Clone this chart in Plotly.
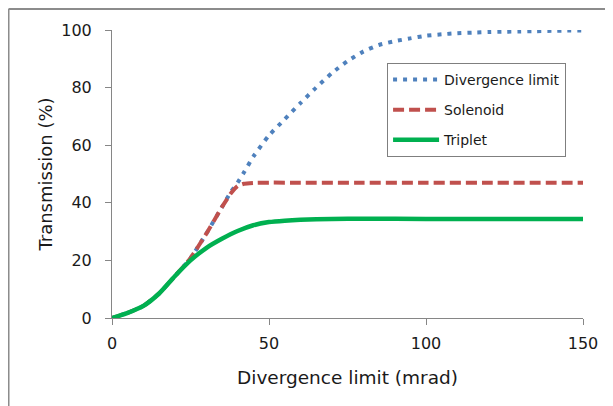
import plotly.graph_objects as go

# Divergence limit (mrad)
x_div = [0, 5, 10, 15, 20, 25, 30, 35, 38, 40, 42, 45, 50, 55, 60, 65, 70, 75, 80,
         85, 90, 95, 100, 105, 110, 115, 120, 125, 130, 135, 140, 145, 150]
divergence = [0, 1.8, 4.2, 8.5, 14.5, 20.8, 29.2, 38.5, 44, 47, 50.5, 56, 63.4, 69, 74.6,
              80, 85, 89.2, 92.5, 94.8, 96.1, 97.1, 98.0, 98.5, 98.9, 99.1, 99.3, 99.4,
              99.5, 99.6, 99.7, 99.8, 99.8]

x_sol = [0, 5, 10, 15, 20, 25, 30, 35, 38, 40, 42, 45, 50, 60, 80, 100, 120, 150]
solenoid = [0, 1.8, 4.2, 8.5, 14.5, 20.8, 29.2, 38.5, 43.5, 45.8, 46.6, 46.9, 47, 47, 47, 47, 47, 47]

x_tri = [0, 5, 10, 15, 20, 25, 30, 35, 40, 45, 50, 55, 60, 70, 80, 100, 120, 150]
triplet = [0, 1.8, 4.2, 8.5, 14.5, 20, 24.3, 27.5, 30.2, 32.2, 33.3, 33.8, 34.1, 34.4, 34.5, 34.4, 34.4, 34.4]

font = "'DejaVu Sans', sans-serif"

fig = go.Figure()
fig.add_trace(go.Scatter(x=x_div, y=divergence, name="Divergence limit", mode="lines",
                         line=dict(color="#4F81BD", width=4, dash="4px,6px", shape="spline", smoothing=0.6),
                         legendgroup="a"))
fig.add_trace(go.Scatter(x=x_sol, y=solenoid, name="Solenoid", mode="lines",
                         line=dict(color="#C0504D", width=4, dash="11px,5px", shape="spline", smoothing=0.5),
                         legendgroup="b"))
fig.add_trace(go.Scatter(x=x_tri, y=triplet, name="Triplet", mode="lines",
                         line=dict(color="#00B050", width=4.5, shape="spline", smoothing=0.6),
                         legendgroup="c"))

fig.update_layout(
    width=613, height=406,
    margin=dict(l=104, r=38, t=22, b=96),
    plot_bgcolor="white", paper_bgcolor="white",
    font=dict(family=font, color="#1a1a1a"),
    showlegend=True,
    legend=dict(x=0.584, y=0.886, xanchor="left", yanchor="top",
                bordercolor="#7f7f7f", borderwidth=1, bgcolor="white",
                font=dict(size=14), traceorder="grouped", tracegroupgap=9,
                itemwidth=46),
    shapes=[
        dict(type="line", xref="paper", yref="paper", x0=-0.2197, x1=-0.2197, y0=-0.4, y1=1.0729,
             line=dict(color="#8c8c8c", width=2)),
        dict(type="line", xref="paper", yref="paper", x0=-0.2197, x1=1.2, y0=1.0729, y1=1.0729,
             line=dict(color="#8c8c8c", width=2)),
    ],
)
fig.update_xaxes(range=[0, 150], tickvals=[0, 50, 100, 150], showgrid=False, zeroline=False,
                 showline=True, linecolor="#868686", linewidth=1,
                 ticks="outside", ticklen=6, tickcolor="#868686",
                 tickfont=dict(size=16), ticklabelstandoff=5,
                 title=dict(text="Divergence limit (mrad)", font=dict(size=18.5), standoff=18))
fig.update_yaxes(range=[0, 100], tickvals=[0, 20, 40, 60, 80, 100], showgrid=False, zeroline=False,
                 showline=True, linecolor="#868686", linewidth=1,
                 ticks="outside", ticklen=6, tickcolor="#868686",
                 tickfont=dict(size=16), ticklabelstandoff=10,
                 title=dict(text="Transmission (%)", font=dict(size=18), standoff=3))

fig.write_html("out.html")
